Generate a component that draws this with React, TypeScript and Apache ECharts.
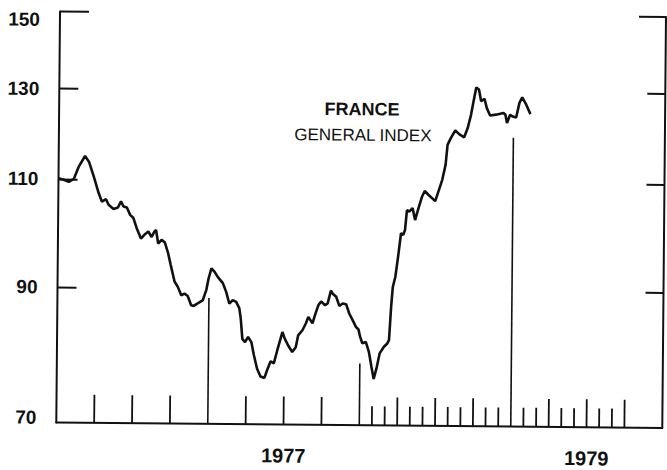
import React, { useEffect, useRef } from 'react';
import * as echarts from 'echarts';

// Time in decimal years, index values (log scale chart)
const years = [
  1976.000, 1976.035, 1976.068, 1976.101, 1976.134, 1976.174, 1976.200, 1976.233, 1976.266, 1976.288,
  1976.315, 1976.332, 1976.365, 1976.394, 1976.414, 1976.431, 1976.453, 1976.475, 1976.497, 1976.519,
  1976.548, 1976.574, 1976.596, 1976.618, 1976.636, 1976.647, 1976.662, 1976.684, 1976.706, 1976.728,
  1976.746, 1976.772, 1976.794, 1976.817, 1976.838, 1976.860, 1976.883, 1976.900, 1976.926, 1976.959,
  1976.982, 1976.997, 1977.015, 1977.036, 1977.058, 1977.091, 1977.114, 1977.135, 1977.157, 1977.180,
  1977.201, 1977.211, 1977.223, 1977.241, 1977.261, 1977.283, 1977.300, 1977.322, 1977.345, 1977.371,
  1977.388, 1977.411, 1977.432, 1977.454, 1977.487, 1977.503, 1977.525, 1977.553, 1977.576, 1977.591,
  1977.619, 1977.642, 1977.657, 1977.685, 1977.701, 1977.723, 1977.741, 1977.767, 1977.784, 1977.805,
  1977.817, 1977.840, 1977.861, 1977.883, 1977.906, 1977.927, 1977.949, 1977.972, 1977.989, 1978.000,
  1978.015, 1978.038, 1978.059, 1978.077, 1978.092, 1978.110, 1978.130, 1978.158, 1978.180, 1978.191,
  1978.203, 1978.213, 1978.229, 1978.246, 1978.264, 1978.279, 1978.290, 1978.302, 1978.317, 1978.339,
  1978.356, 1978.378, 1978.401, 1978.418, 1978.444, 1978.488, 1978.533, 1978.554, 1978.566, 1978.587,
  1978.616, 1978.642, 1978.675, 1978.698, 1978.719, 1978.735, 1978.752, 1978.770, 1978.785, 1978.807,
  1978.823, 1978.845, 1978.884, 1978.933, 1978.946, 1978.957, 1978.977, 1978.995, 1979.017, 1979.038,
  1979.056, 1979.083, 1979.111,
];
const indexValues = [
  110.1, 109.8, 109.4, 110.0, 112.6, 114.8, 113.6, 110.5, 107.2, 105.5,
  106.0, 104.9, 104.1, 104.4, 105.6, 104.6, 104.4, 103.0, 102.4, 100.5,
  98.6, 99.4, 99.9, 98.9, 99.9, 100.2, 97.7, 98.4, 97.9, 96.0,
  93.9, 91.1, 90.2, 88.8, 89.1, 88.7, 87.2, 87.1, 87.5, 88.0,
  89.7, 91.7, 93.4, 92.8, 91.9, 90.9, 89.4, 87.5, 88.1, 87.8,
  86.8, 85.2, 82.0, 81.5, 82.3, 81.5, 79.6, 77.6, 76.5, 76.3,
  77.4, 78.7, 78.4, 80.3, 83.1, 82.1, 81.1, 80.1, 80.8, 82.6,
  83.4, 84.5, 85.5, 84.5, 85.8, 87.4, 88.0, 87.4, 87.7, 89.8,
  89.3, 88.8, 87.3, 87.7, 87.6, 86.1, 85.1, 84.0, 83.6, 82.5,
  81.5, 81.7, 80.2, 78.0, 76.3, 77.8, 80.0, 81.0, 81.5, 82.0,
  87.2, 90.5, 92.2, 95.7, 100.0, 99.7, 100.6, 104.4, 104.1, 104.8,
  102.5, 104.8, 107.1, 108.2, 107.4, 106.2, 110.5, 113.6, 117.9, 119.4,
  121.1, 120.3, 119.6, 121.7, 124.7, 127.9, 131.2, 130.7, 127.9, 128.5,
  126.3, 124.6, 124.8, 125.2, 124.8, 122.9, 124.8, 124.4, 124.2, 127.6,
  128.9, 127.2, 125.0,
];

const quarterTicks = [
  1976.25, 1976.5, 1976.75, 1977.25, 1977.5, 1977.75,
  1978.25, 1978.5, 1978.75, 1979.25, 1979.5, 1979.75,
];
const monthTicks = [
  1978.083, 1978.167, 1978.333, 1978.417, 1978.583, 1978.667, 1978.833, 1978.917,
  1979.083, 1979.167, 1979.333, 1979.417, 1979.583, 1979.667,
];
const yearMarkerYears = [1977, 1978, 1979];
const yearMarkerTops = [88.4, 78.5, 119.6];

const yTickLabels = [70, 90, 110, 130, 150];
const yInnerTicks = [90, 110, 130];
const yAxisMin = 70;
const yAxisMax = 150;
const xYearLabelCenters = [1977.5, 1979.5];
const titleText = 'FRANCE';
const subtitleText = 'GENERAL INDEX';

export default function App() {
  const ref = useRef<HTMLDivElement>(null);
  useEffect(() => {
    const chart = echarts.init(ref.current as HTMLDivElement, null, { renderer: 'svg' });
    const ln = Math.log;
    const yMin = ln(yAxisMin);
    const yMax = ln(yAxisMax);
    const ink = '#111';
    const font = "'Liberation Sans', Arial, Helvetica, sans-serif";

    const tickSeries = (data: number[], len: number) => ({
      type: 'custom',
      silent: true,
      data: data.map((x) => [x, yMin]),
      renderItem: (_p: any, api: any) => {
        const p = api.coord([api.value(0), api.value(1)]);
        return {
          type: 'line',
          shape: { x1: p[0], y1: p[1], x2: p[0], y2: p[1] - len },
          style: { stroke: ink, lineWidth: 1.8 },
        };
      },
    });

    const labelRich = {
      t: { padding: [16, 0, 0, 0], fontSize: 19, fontWeight: 'bold', fontFamily: font, color: ink },
      b: { padding: [0, 0, 10, 0], fontSize: 19, fontWeight: 'bold', fontFamily: font, color: ink },
      n: { fontSize: 19, fontWeight: 'bold', fontFamily: font, color: ink },
    };

    const hiddenAxisBase = {
      type: 'value',
      min: yMin,
      max: yMax,
      axisLine: { show: false },
      axisLabel: { show: false },
      splitLine: { show: false },
    };

    chart.setOption({
      animation: false,
      backgroundColor: '#fff',
      grid: { left: 58, right: 3, top: 14, bottom: 45, containLabel: false, outerBoundsMode: 'none' },
      xAxis: {
        type: 'value',
        min: 1976,
        max: 1980,
        axisLine: { show: true, onZero: false, lineStyle: { color: ink, width: 2 } },
        axisTick: { show: false },
        splitLine: { show: false },
        axisLabel: {
          customValues: xYearLabelCenters,
          formatter: (v: number) => String(Math.floor(v)),
          margin: 21,
          color: ink,
          fontSize: 20,
          fontWeight: 'bold',
          fontFamily: font,
        },
      },
      yAxis: [
        {
          type: 'value',
          min: yMin,
          max: yMax,
          position: 'left',
          axisLine: { show: true, onZero: false, lineStyle: { color: ink, width: 2 } },
          axisTick: {
            show: true,
            inside: true,
            length: 19,
            customValues: yInnerTicks.map(ln),
            lineStyle: { color: ink, width: 2 },
          },
          splitLine: { show: false },
          axisLabel: {
            customValues: yTickLabels.map(ln),
            margin: 20,
            formatter: (v: number) => {
              const n = Math.round(Math.exp(v));
              const k = n === yAxisMax ? 't' : n === yAxisMin ? 'b' : 'n';
              return `{${k}|${n}}`;
            },
            rich: labelRich,
            color: ink,
            fontSize: 19,
            fontWeight: 'bold',
            fontFamily: font,
          },
        },
        {
          type: 'value',
          min: yMin,
          max: yMax,
          position: 'right',
          axisLine: { show: true, onZero: false, lineStyle: { color: ink, width: 2 } },
          axisTick: {
            show: true,
            inside: true,
            length: 18,
            customValues: yInnerTicks.map(ln),
            lineStyle: { color: ink, width: 2 },
          },
          splitLine: { show: false },
          axisLabel: { show: false },
        },
        {
          ...hiddenAxisBase,
          position: 'left',
          axisTick: { show: true, inside: true, length: 29, customValues: [yMax], lineStyle: { color: ink, width: 2 } },
        },
        {
          ...hiddenAxisBase,
          position: 'right',
          axisTick: { show: true, inside: true, length: 27, customValues: [yMax], lineStyle: { color: ink, width: 2 } },
        },
      ],
      series: [
        tickSeries(quarterTicks, 28),
        tickSeries(monthTicks, 19),
        {
          type: 'custom',
          silent: true,
          data: yearMarkerYears.map((x, i) => [x, ln(yearMarkerTops[i])]),
          renderItem: (_p: any, api: any) => {
            const top = api.coord([api.value(0), api.value(1)]);
            const base = api.coord([api.value(0), yMin]);
            return {
              type: 'line',
              shape: { x1: top[0], y1: top[1], x2: base[0], y2: base[1] },
              style: { stroke: ink, lineWidth: 1.6 },
            };
          },
        },
        {
          type: 'line',
          name: 'France general index',
          data: years.map((t, i) => [t, ln(indexValues[i])]),
          showSymbol: false,
          symbol: 'none',
          smooth: false,
          lineStyle: { color: ink, width: 2.6 },
          silent: true,
        },
      ],
      graphic: [
        {
          type: 'text',
          x: 361,
          y: 109,
          style: {
            text: titleText,
            align: 'center',
            verticalAlign: 'middle',
            font: `bold 18px ${font}`,
            fill: ink,
          },
        },
        {
          type: 'text',
          x: 362,
          y: 135,
          style: {
            text: subtitleText,
            align: 'center',
            verticalAlign: 'middle',
            font: `17px ${font}`,
            fill: ink,
          },
        },
      ],
    });
    return () => chart.dispose();
  }, []);

  return (
    <div
      ref={ref}
      style={{
        position: 'absolute',
        left: 0,
        top: 0,
        width: 667,
        height: 470,
        background: '#fff',
        transform: 'rotate(0.52deg)',
        transformOrigin: '50% 50%',
      }}
    />
  );
}
